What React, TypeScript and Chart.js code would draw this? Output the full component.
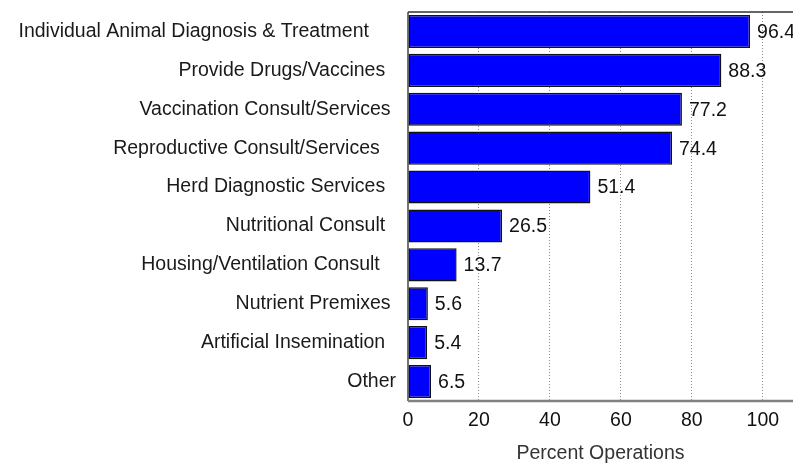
import React, { useEffect, useRef } from "react";
import { Chart, registerables } from "chart.js";

Chart.register(...registerables);

const categories = [
  "Individual Animal Diagnosis & Treatment     ",
  "Provide Drugs/Vaccines  ",
  "Vaccination Consult/Services ",
  "Reproductive Consult/Services   ",
  "Herd Diagnostic Services  ",
  "Nutritional Consult  ",
  "Housing/Ventilation Consult   ",
  "Nutrient Premixes ",
  "Artificial Insemination  ",
  "Other",
];
const values = [96.4, 88.3, 77.2, 74.4, 51.4, 26.5, 13.7, 5.6, 5.4, 6.5];
const xTicks = [0, 20, 40, 60, 80, 100];
const xTitle = "Percent Operations";

const FONT = "'Liberation Sans', Arial, sans-serif";

const valueLabels = {
  id: "valueLabels",
  afterDatasetsDraw(chart: any) {
    const ctx = chart.ctx;
    const meta = chart.getDatasetMeta(0);
    ctx.save();
    ctx.font = `19.5px ${FONT}`;
    ctx.fillStyle = "#111";
    ctx.textAlign = "left";
    ctx.textBaseline = "middle";
    meta.data.forEach((el: any, i: number) => {
      ctx.fillText(values[i].toFixed(1), el.x + 7, el.y + 1);
    });
    ctx.restore();
  },
  afterDraw(chart: any) {
    const { ctx, chartArea } = chart;
    ctx.save();
    ctx.strokeStyle = "#333";
    ctx.lineWidth = 1.5;
    ctx.beginPath();
    ctx.moveTo(chartArea.left, chartArea.top);
    ctx.lineTo(chartArea.right, chartArea.top);
    ctx.stroke();
    ctx.strokeStyle = "#444";
    ctx.lineWidth = 1.5;
    ctx.beginPath();
    ctx.moveTo(chartArea.left, chartArea.top);
    ctx.lineTo(chartArea.left, chartArea.bottom);
    ctx.stroke();
    ctx.strokeStyle = "#808080";
    ctx.lineWidth = 2.5;
    ctx.beginPath();
    ctx.moveTo(chartArea.left, chartArea.bottom);
    ctx.lineTo(chartArea.right, chartArea.bottom);
    ctx.stroke();
    ctx.restore();
  },
};

export default function App() {
  const ref = useRef<HTMLCanvasElement | null>(null);
  useEffect(() => {
    if (!ref.current) return;
    const chart = new Chart(ref.current, {
      type: "bar",
      data: {
        labels: categories,
        datasets: [
          {
            data: values,
            backgroundColor: "#0000ff",
            borderColor: "#111",
            borderWidth: 1.5,
            borderSkipped: false,
            barPercentage: 0.85,
            categoryPercentage: 1.0,
          },
        ],
      },
      options: {
        indexAxis: "y",
        animation: false,
        responsive: false,
        devicePixelRatio: 1,
        layout: { padding: { left: 10, top: 12, right: 0, bottom: 0 } },
        plugins: { legend: { display: false }, tooltip: { enabled: false } },
        scales: {
          x: {
            min: 0,
            max: 108.5,
            afterBuildTicks: (scale: any) => {
              scale.ticks = xTicks.map((v) => ({ value: v }));
            },
            afterFit: (scale: any) => {
              scale.height = 63;
              scale.paddingRight = 0;
              scale.paddingLeft = 0;
            },
            grid: {
              drawTicks: false,
              color: (c: any) => (c.tick && c.tick.value === 0 ? "rgba(0,0,0,0)" : "#8a8a8a"),
              lineWidth: 1,
            },
            border: { display: false, dash: [1, 2] },
            ticks: {
              padding: 8,
              color: "#111",
              font: { family: FONT, size: 19.5 },
            },
            title: {
              display: true,
              text: xTitle,
              color: "#333",
              font: { family: FONT, size: 19.5, lineHeight: 1 },
              padding: { top: 0, bottom: 1 },
            },
          },
          y: {
            afterFit: (scale: any) => {
              scale.width = 398;
              scale.paddingTop = 0;
              scale.paddingBottom = 0;
            },
            grid: { display: false, drawTicks: false },
            border: { display: false },
            ticks: {
              padding: 12,
              color: "#1a1a1a",
              font: { family: FONT, size: 19.5 },
            },
          },
        },
      },
      plugins: [valueLabels],
    });
    return () => chart.destroy();
  }, []);
  return (
    <div style={{ position: "absolute", left: 0, top: 0, width: 793, height: 464, background: "#fff" }}>
      <canvas ref={ref} width={793} height={464} style={{ width: 793, height: 464 }} />
    </div>
  );
}
